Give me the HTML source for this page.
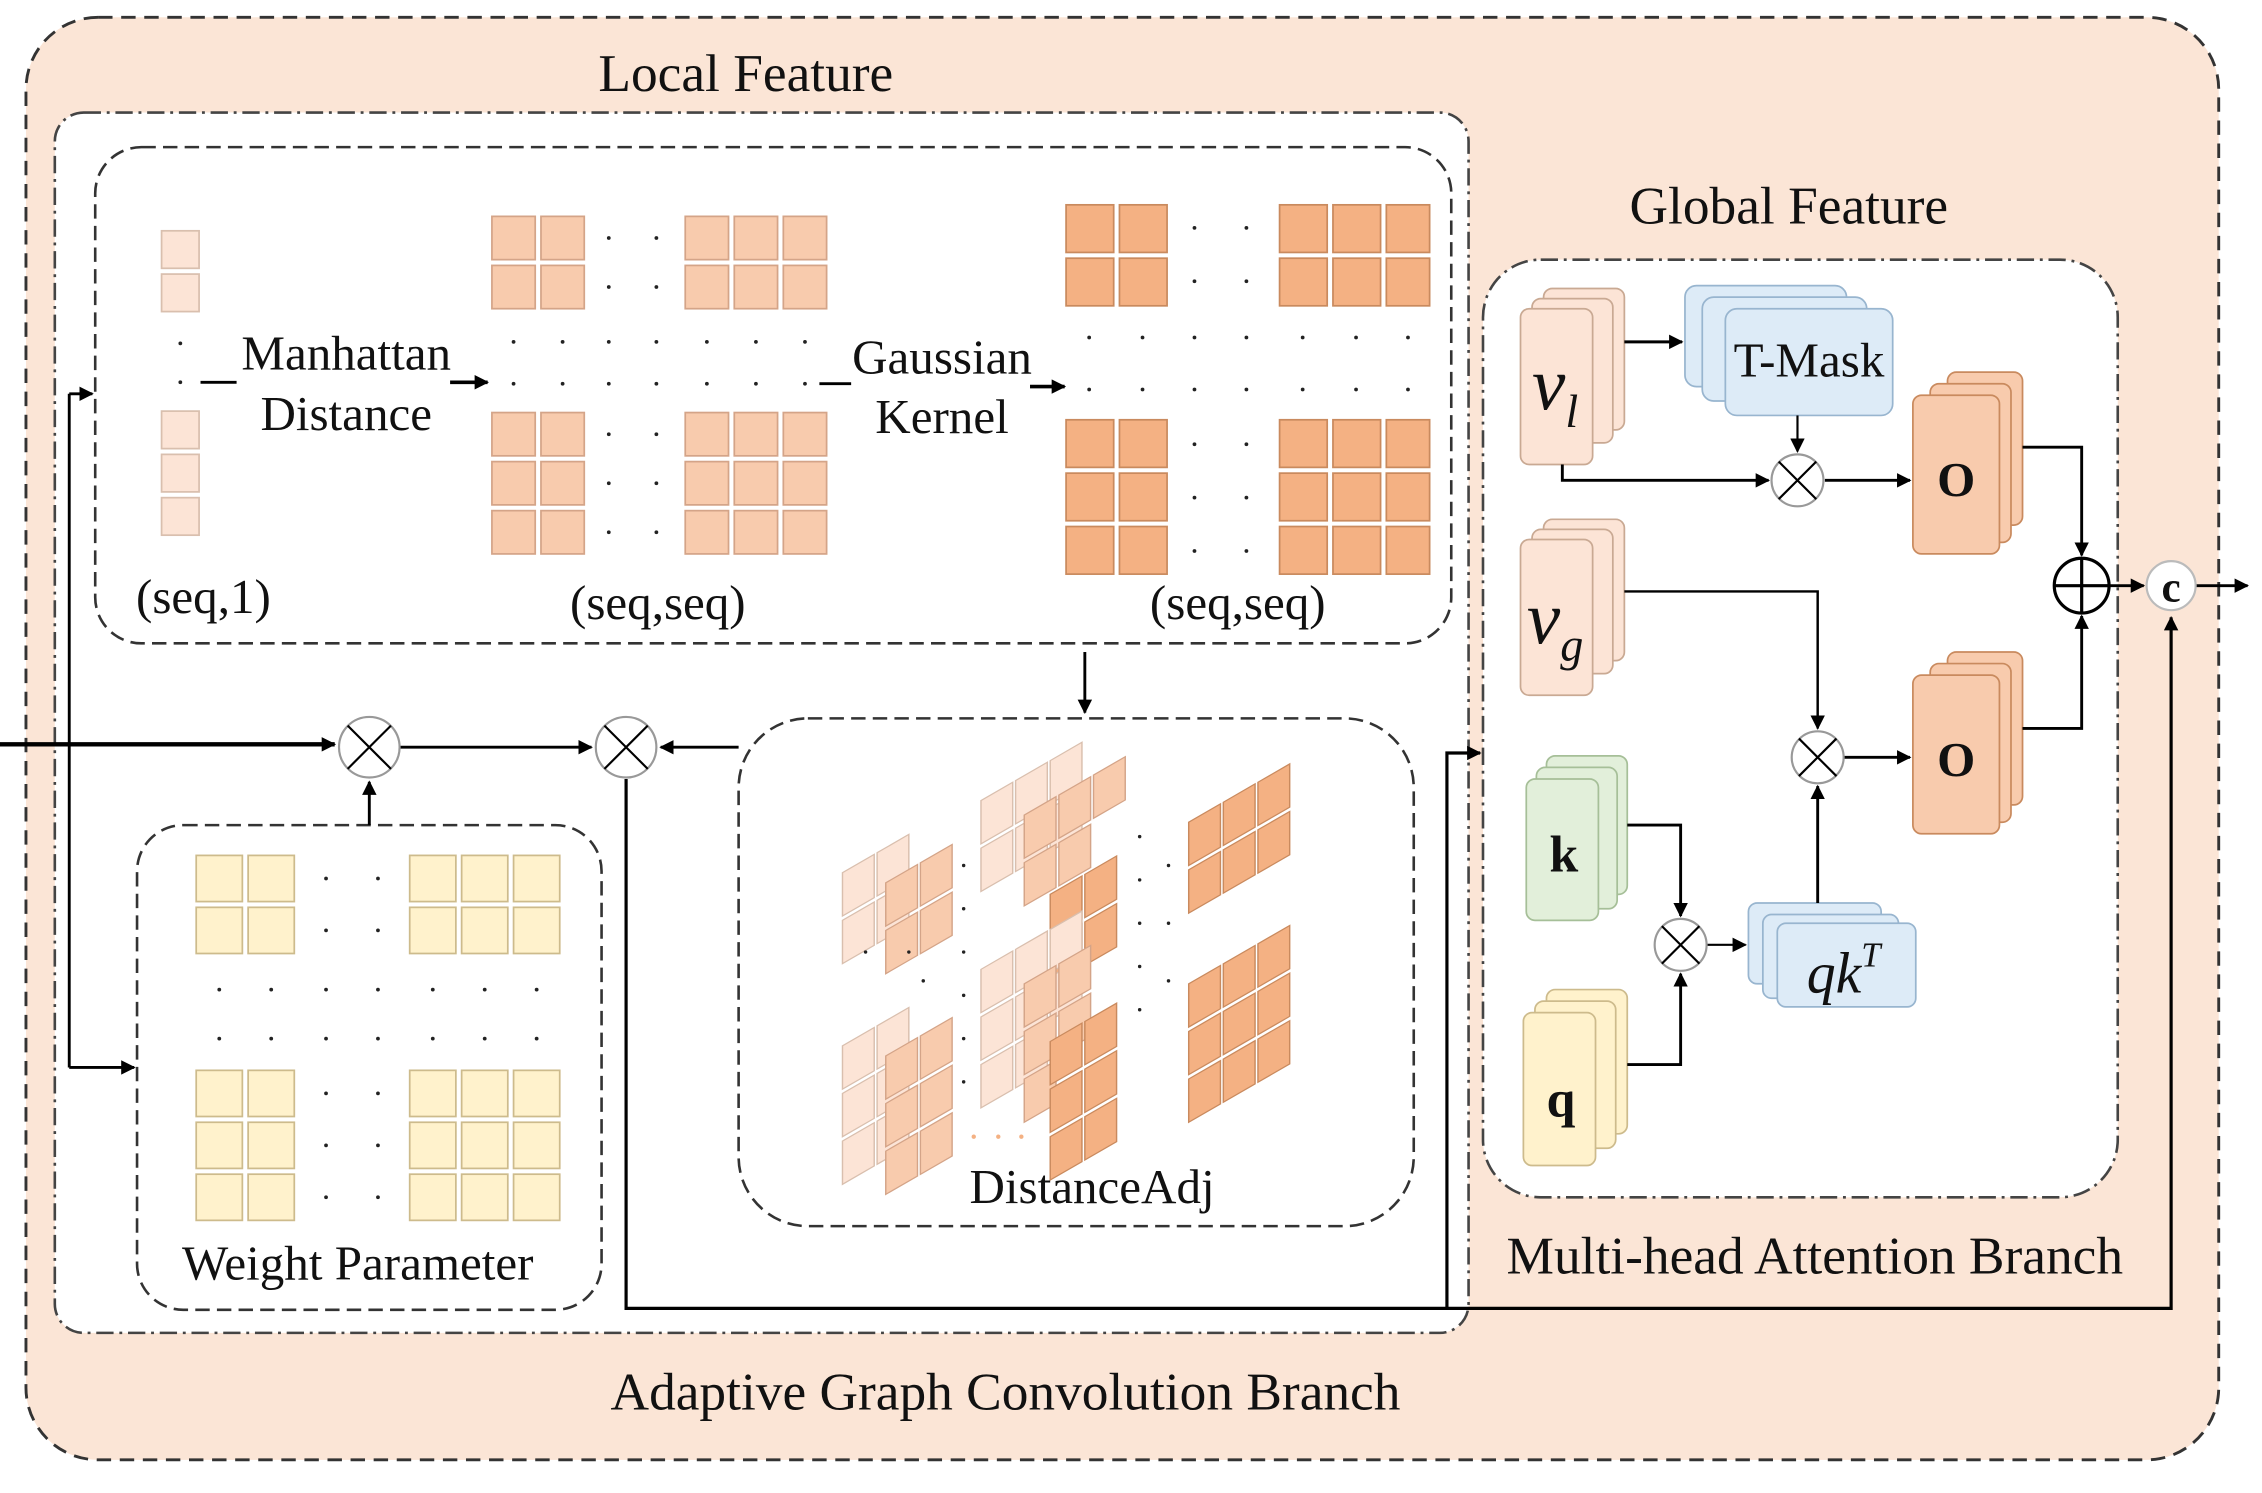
<!DOCTYPE html>
<html><head><meta charset="utf-8"><style>
html,body{margin:0;padding:0;background:#fff;}
svg{display:block;}
text{font-family:"Liberation Serif",serif;fill:#111;}
</style></head><body>
<svg width="2262" height="1493" viewBox="0 0 1568 1035" preserveAspectRatio="none" xmlns="http://www.w3.org/2000/svg">
<defs>
<marker id="ar" markerWidth="10" markerHeight="10" refX="9" refY="5" orient="auto" markerUnits="userSpaceOnUse"><path d="M0,0 L10,5 L0,10 Z" fill="#000"/></marker>
<g id="tl"><rect width="22" height="30" fill="#fce4d6" stroke="#d9bfae" stroke-width="1"/></g>
<g id="tm"><rect width="22" height="30" fill="#f8cbad" stroke="#d4a488" stroke-width="1"/></g>
<g id="td"><rect width="22" height="30" fill="#f4b183" stroke="#c98a5e" stroke-width="1"/></g>
</defs>
<rect x="18" y="12" width="1520" height="1000" rx="50" fill="#fbe5d6" stroke="#333" stroke-width="2" stroke-dasharray="10,6"/>
<rect x="38" y="78" width="980" height="846" rx="20" fill="#fff" stroke="#444" stroke-width="1.8" stroke-dasharray="12,4,2,4"/>
<rect x="1028" y="180" width="440" height="650" rx="40" fill="#fff" stroke="#444" stroke-width="1.8" stroke-dasharray="12,4,2,4"/>
<rect x="66" y="102" width="940" height="344" rx="32" fill="#fff" stroke="#333" stroke-width="1.8" stroke-dasharray="10,5"/>
<rect x="512" y="498" width="468" height="352" rx="48" fill="#fff" stroke="#333" stroke-width="1.8" stroke-dasharray="10,5"/>
<rect x="95" y="572" width="322" height="336" rx="32" fill="#fff" stroke="#333" stroke-width="1.8" stroke-dasharray="10,5"/>

<text x="517" y="63" font-size="37" text-anchor="middle">Local Feature</text>
<text x="1240" y="155" font-size="37" text-anchor="middle">Global Feature</text>
<text x="1258" y="883" font-size="37" text-anchor="middle">Multi-head Attention Branch</text>
<text x="697" y="977" font-size="37" text-anchor="middle">Adaptive Graph Convolution Branch</text>

<g fill="#fce4d6" stroke="#d9bfae" stroke-width="1.2">
<rect x="112" y="160" width="26" height="26"/><rect x="112" y="190" width="26" height="26"/>
<rect x="112" y="285" width="26" height="26"/><rect x="112" y="315" width="26" height="26"/><rect x="112" y="345" width="26" height="26"/>
</g>
<g fill="#222"><circle cx="125" cy="238" r="1.3"/><circle cx="125" cy="265" r="1.3"/></g>
<path d="M139,265 H164" stroke="#000" stroke-width="2"/>
<text x="240" y="256" font-size="34" text-anchor="middle">Manhattan</text>
<text x="240" y="298" font-size="34" text-anchor="middle">Distance</text>
<path d="M312,265 H338" stroke="#000" stroke-width="2.5" marker-end="url(#ar)"/>
<text x="141" y="425" font-size="34" text-anchor="middle">(seq,1)</text>

<g fill="#f8cbad" stroke="#d4a488" stroke-width="1.2">
<rect x="341" y="150" width="30" height="30"/><rect x="375" y="150" width="30" height="30"/>
<rect x="341" y="184" width="30" height="30"/><rect x="375" y="184" width="30" height="30"/>
<rect x="475" y="150" width="30" height="30"/><rect x="509" y="150" width="30" height="30"/><rect x="543" y="150" width="30" height="30"/>
<rect x="475" y="184" width="30" height="30"/><rect x="509" y="184" width="30" height="30"/><rect x="543" y="184" width="30" height="30"/>
<rect x="341" y="286" width="30" height="30"/><rect x="375" y="286" width="30" height="30"/>
<rect x="341" y="320" width="30" height="30"/><rect x="375" y="320" width="30" height="30"/>
<rect x="341" y="354" width="30" height="30"/><rect x="375" y="354" width="30" height="30"/>
<rect x="475" y="286" width="30" height="30"/><rect x="509" y="286" width="30" height="30"/><rect x="543" y="286" width="30" height="30"/>
<rect x="475" y="320" width="30" height="30"/><rect x="509" y="320" width="30" height="30"/><rect x="543" y="320" width="30" height="30"/>
<rect x="475" y="354" width="30" height="30"/><rect x="509" y="354" width="30" height="30"/><rect x="543" y="354" width="30" height="30"/>
</g>
<g fill="#222">
<circle cx="422" cy="165" r="1.3"/><circle cx="455" cy="165" r="1.3"/><circle cx="422" cy="199" r="1.3"/><circle cx="455" cy="199" r="1.3"/>
<circle cx="422" cy="301" r="1.3"/><circle cx="455" cy="301" r="1.3"/><circle cx="422" cy="335" r="1.3"/><circle cx="455" cy="335" r="1.3"/><circle cx="422" cy="369" r="1.3"/><circle cx="455" cy="369" r="1.3"/>
<circle cx="356" cy="237" r="1.3"/><circle cx="390" cy="237" r="1.3"/><circle cx="422" cy="237" r="1.3"/><circle cx="455" cy="237" r="1.3"/><circle cx="490" cy="237" r="1.3"/><circle cx="524" cy="237" r="1.3"/><circle cx="558" cy="237" r="1.3"/>
<circle cx="356" cy="266" r="1.3"/><circle cx="390" cy="266" r="1.3"/><circle cx="422" cy="266" r="1.3"/><circle cx="455" cy="266" r="1.3"/><circle cx="490" cy="266" r="1.3"/><circle cx="524" cy="266" r="1.3"/><circle cx="558" cy="266" r="1.3"/>
</g>
<path d="M568,266 H590" stroke="#000" stroke-width="2"/>
<text x="653" y="259" font-size="34" text-anchor="middle">Gaussian</text>
<text x="653" y="300" font-size="34" text-anchor="middle">Kernel</text>
<path d="M714,268 H738" stroke="#000" stroke-width="2.5" marker-end="url(#ar)"/>
<text x="456" y="429" font-size="34" text-anchor="middle">(seq,seq)</text>
<text x="858" y="429" font-size="34" text-anchor="middle">(seq,seq)</text>

<g fill="#f4b183" stroke="#c98a5e" stroke-width="1.2">
<rect x="739" y="142" width="33" height="33"/><rect x="776" y="142" width="33" height="33"/>
<rect x="739" y="179" width="33" height="33"/><rect x="776" y="179" width="33" height="33"/>
<rect x="887" y="142" width="33" height="33"/><rect x="924" y="142" width="33" height="33"/><rect x="961" y="142" width="30" height="33"/>
<rect x="887" y="179" width="33" height="33"/><rect x="924" y="179" width="33" height="33"/><rect x="961" y="179" width="30" height="33"/>
<rect x="739" y="291" width="33" height="33"/><rect x="776" y="291" width="33" height="33"/>
<rect x="739" y="328" width="33" height="33"/><rect x="776" y="328" width="33" height="33"/>
<rect x="739" y="365" width="33" height="33"/><rect x="776" y="365" width="33" height="33"/>
<rect x="887" y="291" width="33" height="33"/><rect x="924" y="291" width="33" height="33"/><rect x="961" y="291" width="30" height="33"/>
<rect x="887" y="328" width="33" height="33"/><rect x="924" y="328" width="33" height="33"/><rect x="961" y="328" width="30" height="33"/>
<rect x="887" y="365" width="33" height="33"/><rect x="924" y="365" width="33" height="33"/><rect x="961" y="365" width="30" height="33"/>
</g>
<g fill="#222">
<circle cx="828" cy="158" r="1.3"/><circle cx="864" cy="158" r="1.3"/><circle cx="828" cy="195" r="1.3"/><circle cx="864" cy="195" r="1.3"/>
<circle cx="828" cy="308" r="1.3"/><circle cx="864" cy="308" r="1.3"/><circle cx="828" cy="345" r="1.3"/><circle cx="864" cy="345" r="1.3"/><circle cx="828" cy="382" r="1.3"/><circle cx="864" cy="382" r="1.3"/>
<circle cx="755" cy="234" r="1.3"/><circle cx="792" cy="234" r="1.3"/><circle cx="828" cy="234" r="1.3"/><circle cx="864" cy="234" r="1.3"/><circle cx="903" cy="234" r="1.3"/><circle cx="940" cy="234" r="1.3"/><circle cx="976" cy="234" r="1.3"/>
<circle cx="755" cy="270" r="1.3"/><circle cx="792" cy="270" r="1.3"/><circle cx="828" cy="270" r="1.3"/><circle cx="864" cy="270" r="1.3"/><circle cx="903" cy="270" r="1.3"/><circle cx="940" cy="270" r="1.3"/><circle cx="976" cy="270" r="1.3"/>
</g>

<g fill="#fff2cc" stroke="#cdbb8c" stroke-width="1.2">
<rect x="136" y="593" width="32" height="32"/><rect x="172" y="593" width="32" height="32"/>
<rect x="136" y="629" width="32" height="32"/><rect x="172" y="629" width="32" height="32"/>
<rect x="284" y="593" width="32" height="32"/><rect x="320" y="593" width="32" height="32"/><rect x="356" y="593" width="32" height="32"/>
<rect x="284" y="629" width="32" height="32"/><rect x="320" y="629" width="32" height="32"/><rect x="356" y="629" width="32" height="32"/>
<rect x="136" y="742" width="32" height="32"/><rect x="172" y="742" width="32" height="32"/>
<rect x="136" y="778" width="32" height="32"/><rect x="172" y="778" width="32" height="32"/>
<rect x="136" y="814" width="32" height="32"/><rect x="172" y="814" width="32" height="32"/>
<rect x="284" y="742" width="32" height="32"/><rect x="320" y="742" width="32" height="32"/><rect x="356" y="742" width="32" height="32"/>
<rect x="284" y="778" width="32" height="32"/><rect x="320" y="778" width="32" height="32"/><rect x="356" y="778" width="32" height="32"/>
<rect x="284" y="814" width="32" height="32"/><rect x="320" y="814" width="32" height="32"/><rect x="356" y="814" width="32" height="32"/>
</g>
<g fill="#222">
<circle cx="226" cy="609" r="1.3"/><circle cx="262" cy="609" r="1.3"/><circle cx="226" cy="645" r="1.3"/><circle cx="262" cy="645" r="1.3"/>
<circle cx="226" cy="758" r="1.3"/><circle cx="262" cy="758" r="1.3"/><circle cx="226" cy="794" r="1.3"/><circle cx="262" cy="794" r="1.3"/><circle cx="226" cy="830" r="1.3"/><circle cx="262" cy="830" r="1.3"/>
<circle cx="152" cy="686" r="1.3"/><circle cx="188" cy="686" r="1.3"/><circle cx="226" cy="686" r="1.3"/><circle cx="262" cy="686" r="1.3"/><circle cx="300" cy="686" r="1.3"/><circle cx="336" cy="686" r="1.3"/><circle cx="372" cy="686" r="1.3"/>
<circle cx="152" cy="720" r="1.3"/><circle cx="188" cy="720" r="1.3"/><circle cx="226" cy="720" r="1.3"/><circle cx="262" cy="720" r="1.3"/><circle cx="300" cy="720" r="1.3"/><circle cx="336" cy="720" r="1.3"/><circle cx="372" cy="720" r="1.3"/>
</g>
<text x="248" y="887" font-size="34" text-anchor="middle">Weight Parameter</text>

<g stroke-width="1">
<g transform="translate(584,605) skewY(-30)"><use href="#tl"/><use href="#tl" x="24"/><use href="#tl" y="33"/><use href="#tl" x="24" y="33"/></g>
<g transform="translate(614,612) skewY(-30)"><use href="#tm"/><use href="#tm" x="24"/><use href="#tm" y="33"/><use href="#tm" x="24" y="33"/></g>
<g transform="translate(680,555) skewY(-30)"><use href="#tl"/><use href="#tl" x="24"/><use href="#tl" x="48"/><use href="#tl" y="33"/><use href="#tl" x="24" y="33"/><use href="#tl" x="48" y="33"/></g>
<g transform="translate(710,565) skewY(-30)"><use href="#tm"/><use href="#tm" x="24"/><use href="#tm" x="48"/><use href="#tm" y="33"/><use href="#tm" x="24" y="33"/></g>
<g transform="translate(728,620) skewY(-30)"><use href="#td"/><use href="#td" x="24"/><use href="#td" y="33"/><use href="#td" x="24" y="33"/></g>
<g transform="translate(824,570) skewY(-30)"><use href="#td"/><use href="#td" x="24"/><use href="#td" x="48"/><use href="#td" y="33"/><use href="#td" x="24" y="33"/><use href="#td" x="48" y="33"/></g>
<g transform="translate(584,725) skewY(-30)"><use href="#tl"/><use href="#tl" x="24"/><use href="#tl" y="33"/><use href="#tl" x="24" y="33"/><use href="#tl" y="66"/><use href="#tl" x="24" y="66"/></g>
<g transform="translate(614,732) skewY(-30)"><use href="#tm"/><use href="#tm" x="24"/><use href="#tm" y="33"/><use href="#tm" x="24" y="33"/><use href="#tm" y="66"/><use href="#tm" x="24" y="66"/></g>
<g transform="translate(680,672) skewY(-30)"><use href="#tl"/><use href="#tl" x="24"/><use href="#tl" x="48"/><use href="#tl" y="33"/><use href="#tl" x="24" y="33"/><use href="#tl" x="48" y="33"/><use href="#tl" y="66"/><use href="#tl" x="24" y="66"/></g>
<g transform="translate(710,682) skewY(-30)"><use href="#tm"/><use href="#tm" x="24"/><use href="#tm" y="33"/><use href="#tm" x="24" y="33"/><use href="#tm" y="66"/></g>
<g transform="translate(728,722) skewY(-30)"><use href="#td"/><use href="#td" x="24"/><use href="#td" y="33"/><use href="#td" x="24" y="33"/><use href="#td" y="66"/><use href="#td" x="24" y="66"/></g>
<g transform="translate(824,682) skewY(-30)"><use href="#td"/><use href="#td" x="24"/><use href="#td" x="48"/><use href="#td" y="33"/><use href="#td" x="24" y="33"/><use href="#td" x="48" y="33"/><use href="#td" y="66"/><use href="#td" x="24" y="66"/><use href="#td" x="48" y="66"/></g>
</g>
<g fill="#f4b183"><circle cx="675" cy="788" r="1.5"/><circle cx="692" cy="788" r="1.5"/><circle cx="708" cy="788" r="1.5"/></g>
<g fill="#222">
<circle cx="668" cy="600" r="1.2"/><circle cx="668" cy="630" r="1.2"/><circle cx="668" cy="660" r="1.2"/><circle cx="668" cy="690" r="1.2"/><circle cx="668" cy="720" r="1.2"/><circle cx="668" cy="750" r="1.2"/>
<circle cx="790" cy="580" r="1.2"/><circle cx="790" cy="610" r="1.2"/><circle cx="790" cy="640" r="1.2"/><circle cx="790" cy="670" r="1.2"/><circle cx="790" cy="700" r="1.2"/>
<circle cx="810" cy="600" r="1.2"/><circle cx="810" cy="640" r="1.2"/><circle cx="810" cy="680" r="1.2"/>
<circle cx="600" cy="660" r="1.2"/><circle cx="630" cy="660" r="1.2"/><circle cx="640" cy="680" r="1.2"/>
</g>
<text x="757" y="834" font-size="34" text-anchor="middle">DistanceAdj</text>

<g stroke="#000" fill="none">
<path d="M0,516 H232" stroke-width="3" marker-end="url(#ar)"/>
<path d="M48,273 V740" stroke-width="2"/>
<path d="M48,273 H64" stroke-width="2" marker-end="url(#ar)"/>
<path d="M48,740 H93" stroke-width="2" marker-end="url(#ar)"/>
<path d="M277,518 H410" stroke-width="2" marker-end="url(#ar)"/>
<path d="M512,518 H458" stroke-width="2" marker-end="url(#ar)"/>
<path d="M256,572 V542" stroke-width="2" marker-end="url(#ar)"/>
<path d="M752,452 V494" stroke-width="2" marker-end="url(#ar)"/>
<path d="M434,540 V907 H1505 V428" stroke-width="2.2" marker-end="url(#ar)"/>
<path d="M1003,907 V522 H1026" stroke-width="2.2" marker-end="url(#ar)"/>
</g>
<g stroke="#000" stroke-width="1.5" fill="#fff">
<circle cx="256" cy="518" r="21" stroke="#999"/><path d="M241,503 L271,533 M271,503 L241,533"/>
<circle cx="434" cy="518" r="21" stroke="#999"/><path d="M419,503 L449,533 M449,503 L419,533"/>
</g>

<g stroke-width="1.2">
<g fill="#fce4d6" stroke="#c9a993">
<rect x="1070" y="200" width="56" height="98" rx="6"/><rect x="1062" y="207" width="56" height="100" rx="6"/><rect x="1054" y="214" width="50" height="108" rx="6"/>
<rect x="1070" y="360" width="56" height="98" rx="6"/><rect x="1062" y="367" width="56" height="100" rx="6"/><rect x="1054" y="374" width="50" height="108" rx="6"/>
</g>
<g fill="#e2efda" stroke="#a6bf98">
<rect x="1072" y="524" width="56" height="96" rx="6"/><rect x="1065" y="532" width="56" height="98" rx="6"/><rect x="1058" y="540" width="50" height="98" rx="6"/>
</g>
<g fill="#fff2cc" stroke="#cdbb8c">
<rect x="1072" y="686" width="56" height="100" rx="6"/><rect x="1064" y="694" width="56" height="102" rx="6"/><rect x="1056" y="702" width="50" height="106" rx="6"/>
</g>
<g fill="#ddebf7" stroke="#98b5cf">
<rect x="1168" y="198" width="112" height="70" rx="8"/><rect x="1180" y="206" width="114" height="72" rx="8"/><rect x="1196" y="214" width="116" height="74" rx="8"/>
<rect x="1212" y="626" width="92" height="56" rx="6"/><rect x="1222" y="634" width="94" height="58" rx="6"/><rect x="1232" y="640" width="96" height="58" rx="6"/>
</g>
<g fill="#f8cbad" stroke="#c98a5e">
<rect x="1350" y="258" width="52" height="106" rx="6"/><rect x="1338" y="266" width="56" height="110" rx="6"/><rect x="1326" y="274" width="60" height="110" rx="6"/>
<rect x="1350" y="452" width="52" height="106" rx="6"/><rect x="1338" y="460" width="56" height="110" rx="6"/><rect x="1326" y="468" width="60" height="110" rx="6"/>
</g>
</g>
<text x="1078" y="284" font-size="52" font-style="italic" text-anchor="middle">v<tspan font-size="32" dy="12">l</tspan></text>
<text x="1078" y="446" font-size="52" font-style="italic" text-anchor="middle">v<tspan font-size="32" dy="12">g</tspan></text>
<text x="1084" y="604" font-size="36" font-weight="bold" text-anchor="middle">k</text>
<text x="1082" y="774" font-size="36" font-weight="bold" text-anchor="middle">q</text>
<text x="1254" y="261" font-size="34" text-anchor="middle">T-Mask</text>
<text x="1278" y="688" font-size="40" font-style="italic" text-anchor="middle">qk<tspan font-size="24" dy="-18">T</tspan></text>
<text x="1356" y="344" font-size="34" font-weight="bold" text-anchor="middle">O</text>
<text x="1356" y="538" font-size="34" font-weight="bold" text-anchor="middle">O</text>

<g stroke="#000" fill="none" stroke-width="2">
<path d="M1126,237 H1166" marker-end="url(#ar)"/>
<path d="M1246,288 V313" stroke-width="1.5" marker-end="url(#ar)"/>
<path d="M1083,322 V333 H1226" marker-end="url(#ar)"/>
<path d="M1265,333 H1324" marker-end="url(#ar)"/>
<path d="M1402,310 H1443 V385" marker-end="url(#ar)"/>
<path d="M1126,410 H1260 V505" stroke-width="1.7" marker-end="url(#ar)"/>
<path d="M1278,525 H1324" marker-end="url(#ar)"/>
<path d="M1402,505 H1443 V427" marker-end="url(#ar)"/>
<path d="M1462,406 H1486" marker-end="url(#ar)"/>
<path d="M1522,406 H1558" marker-end="url(#ar)"/>
<path d="M1128,572 H1165 V635" marker-end="url(#ar)"/>
<path d="M1128,738 H1165 V675" marker-end="url(#ar)"/>
<path d="M1183,655 H1210" stroke-width="1.5" marker-end="url(#ar)"/>
<path d="M1260,626 V545" marker-end="url(#ar)"/>
</g>
<g stroke="#000" stroke-width="1.5" fill="#fff">
<circle cx="1246" cy="333" r="18" stroke="#999"/><path d="M1233,320 L1259,346 M1259,320 L1233,346"/>
<circle cx="1260" cy="525" r="18" stroke="#999"/><path d="M1247,512 L1273,538 M1273,512 L1247,538"/>
<circle cx="1165" cy="655" r="18" stroke="#999"/><path d="M1152,642 L1178,668 M1178,642 L1152,668"/>
<circle cx="1443" cy="406" r="19" stroke-width="2.2"/><path d="M1424,406 H1462 M1443,387 V425" stroke-width="2.2"/>
<circle cx="1505" cy="406" r="17" stroke="#bbb"/>
</g>
<text x="1505" y="417" font-size="30" font-weight="bold" text-anchor="middle">c</text>
</svg>
</body></html>
